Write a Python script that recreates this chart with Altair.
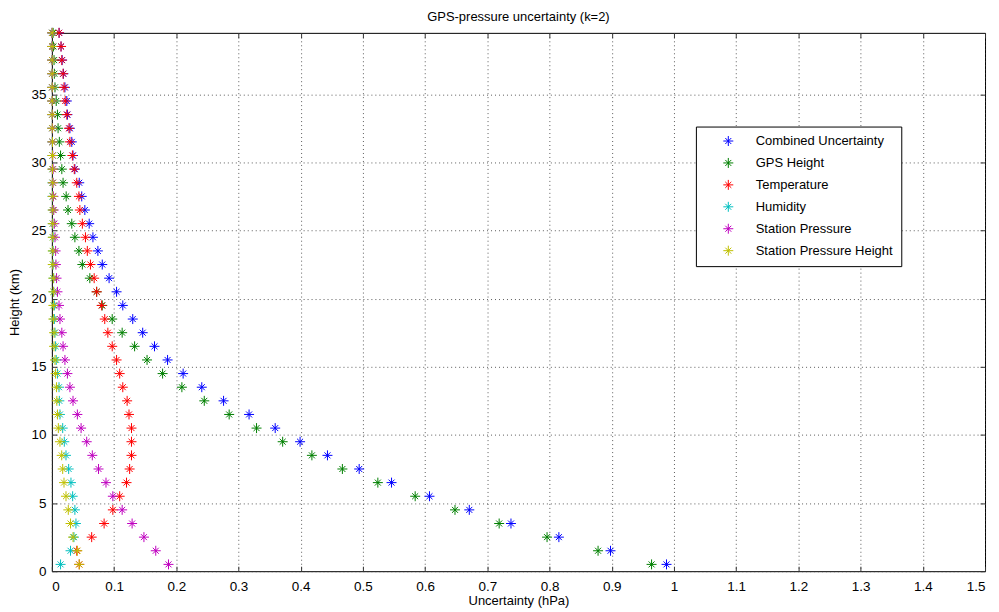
import altair as alt
import pandas as pd

# Heights (km) of each level
heights = [0.5, 1.5, 2.5, 3.5, 4.5, 5.5, 6.5, 7.5, 8.5, 9.5,
           10.5, 11.5, 12.5, 13.5, 14.5, 15.5, 16.5, 17.5, 18.5, 19.5,
           20.5, 21.5, 22.5, 23.5, 24.5, 25.5, 26.5, 27.5, 28.5, 29.5,
           30.5, 31.5, 32.5, 33.5, 34.5, 35.5, 36.5, 37.5, 38.5, 39.5]

combined = [0.988, 0.898, 0.815, 0.738, 0.671, 0.607, 0.546, 0.494, 0.443, 0.399,
            0.359, 0.317, 0.276, 0.241, 0.211, 0.186, 0.165, 0.146, 0.130, 0.114,
            0.104, 0.092, 0.081, 0.074, 0.066, 0.060, 0.053, 0.048, 0.044, 0.037,
            0.034, 0.032, 0.029, 0.025, 0.024, 0.021, 0.0185, 0.0165, 0.0148, 0.0117]
gps_height = [0.964, 0.878, 0.796, 0.719, 0.648, 0.584, 0.524, 0.467, 0.418, 0.371,
              0.329, 0.285, 0.245, 0.209, 0.178, 0.153, 0.133, 0.113, 0.097, 0.081,
              0.072, 0.061, 0.049, 0.0435, 0.037, 0.032, 0.026, 0.023, 0.018, 0.016,
              0.014, 0.012, 0.010, 0.009, 0.007, 0.005, 0.004, 0.0035, 0.0025, 0.002]
temperature = [0.044, 0.040, 0.064, 0.084, 0.098, 0.109, 0.120, 0.125, 0.128, 0.128,
               0.128, 0.124, 0.121, 0.114, 0.109, 0.104, 0.097, 0.090, 0.085, 0.080,
               0.072, 0.068, 0.062, 0.057, 0.054, 0.049, 0.045, 0.0435, 0.040, 0.036,
               0.033, 0.029, 0.0275, 0.024, 0.0215, 0.0195, 0.018, 0.016, 0.0147, 0.0115]
humidity = [0.014, 0.030, 0.0355, 0.0387, 0.037, 0.0334, 0.0307, 0.027, 0.0227, 0.020,
            0.0174, 0.013, 0.012, 0.0115, 0.009, 0.007, 0.006, 0.005, 0.004, 0.004,
            0.003, 0.003, 0.002, 0.002, 0.002, 0.0015, 0.0015, 0.001, 0.001, 0.001,
            0.001, 0.0008, 0.0008, 0.0006, 0.0006, 0.0005, 0.0005, 0.0004, 0.0004, 0.0003]
station_pressure = [0.1875, 0.167, 0.148, 0.129, 0.113, 0.098, 0.087, 0.075, 0.065, 0.056,
                    0.047, 0.041, 0.034, 0.029, 0.025, 0.021, 0.018, 0.016, 0.013, 0.0115,
                    0.009, 0.0075, 0.0065, 0.006, 0.005, 0.004, 0.003, 0.0025, 0.002, 0.002,
                    0.0015, 0.001, 0.001, 0.0008, 0.0007, 0.0006, 0.0005, 0.0004, 0.0003, 0.0003]
station_height = [0.044, 0.041, 0.034, 0.030, 0.0264, 0.0227, 0.0195, 0.0174, 0.0158, 0.013,
                  0.0104, 0.009, 0.008, 0.0075, 0.006, 0.005, 0.0035, 0.0035, 0.0024, 0.0024,
                  0.0024, 0.0024, 0.0014, 0.0014, 0.0014, 0.0014, 0.0014, 0.0014, 0.0014, 0.001,
                  0.001, 0.001, 0.0005, 0.0005, 0.0005, 0.0005, 0.0005, 0.0005, 0.0005, 0.0005]

series_names = ["Combined Uncertainty", "GPS Height", "Temperature",
                "Humidity", "Station Pressure", "Station Pressure Height"]
series_values = [combined, gps_height, temperature, humidity, station_pressure, station_height]
series_colors = ["#0000ff", "#008000", "#ff0000", "#00bfbf", "#bf00bf", "#bfbf00"]

x_ticks = [0, 0.1, 0.2, 0.3, 0.4, 0.5, 0.6, 0.7, 0.8, 0.9, 1.0, 1.1, 1.2, 1.3, 1.4, 1.5]
y_ticks = [0, 5, 10, 15, 20, 25, 30, 35]

rows = []
for order, (name, vals) in enumerate(zip(series_names, series_values)):
    for h, v in zip(heights, vals):
        rows.append({"series": name, "order": order, "height": h, "value": v})
df = pd.DataFrame(rows)

FONT = "Arial, Liberation Sans, sans-serif"
STAR = "M-1,0L1,0M0,-1L0,1M-0.6,-0.6L0.6,0.6M-0.6,0.6L0.6,-0.6"

x_scale = alt.Scale(domain=[0, 1.5], nice=False, zero=False)
y_scale = alt.Scale(domain=[0, 39.5], nice=False, zero=False)
color = alt.Color("series:N",
                  scale=alt.Scale(domain=series_names, range=series_colors),
                  sort=series_names,
                  legend=alt.Legend(title=None, orient="none", legendX=646, legendY=94,
                                    symbolType=STAR, symbolSize=100, symbolStrokeWidth=1,
                                    labelFont=FONT, labelFontSize=13, labelColor="black",
                                    padding=8, rowPadding=7, symbolOffset=18, labelOffset=21,
                                    strokeColor="black", fillColor="white", cornerRadius=0))

main = alt.Chart(df).mark_point(shape=STAR, filled=False, size=100, strokeWidth=1, opacity=1).encode(
    x=alt.X("value:Q", scale=x_scale,
            axis=alt.Axis(orient="bottom", values=x_ticks, labelExpr="format(datum.value, '~g')",
                          title="Uncertainty (hPa)", offset=-5, tickSize=5, labelPadding=8,
                          titlePadding=2, domain=False, grid=True)),
    y=alt.Y("height:Q", scale=y_scale,
            axis=alt.Axis(orient="left", values=y_ticks, title="Height (km)",
                          offset=-5, tickSize=5, labelPadding=6, titlePadding=9,
                          domain=False, grid=True)),
    color=color,
    order="order:Q",
)

# second layer carries the inward ticks on the top and right edges
frame = alt.Chart(df).mark_point(opacity=0).encode(
    x=alt.X("value:Q", scale=x_scale,
            axis=alt.Axis(orient="top", values=x_ticks, labels=False, title=None,
                          offset=-5, tickSize=5, domain=False, grid=False)),
    y=alt.Y("height:Q", scale=y_scale,
            axis=alt.Axis(orient="right", values=y_ticks, labels=False, title=None,
                          offset=-5, tickSize=5, domain=False, grid=False)),
)

chart = alt.layer(main, frame).resolve_axis(x="independent", y="independent").properties(
    width=936, height=540,
    background="white",
    autosize=alt.AutoSizeParams(type="none"),
    padding={"left": 44, "top": 24, "right": 6, "bottom": 41},
    title=alt.Title("GPS-pressure uncertainty (k=2)", font=FONT, fontSize=13,
                    fontWeight="normal", color="black", offset=2, anchor="middle"),
).configure_view(
    stroke="black", strokeWidth=1
).configure_axis(
    labelFont=FONT, labelFontSize=13.5, labelColor="black",
    titleFont=FONT, titleFontSize=13, titleFontWeight="normal", titleColor="black",
    tickColor="#333333", tickWidth=1,
    gridColor="#333333", gridDash=[1, 3], gridWidth=1, gridOpacity=0.8,
)

chart.save("out.html", embed_options={"renderer": "svg", "actions": False})
